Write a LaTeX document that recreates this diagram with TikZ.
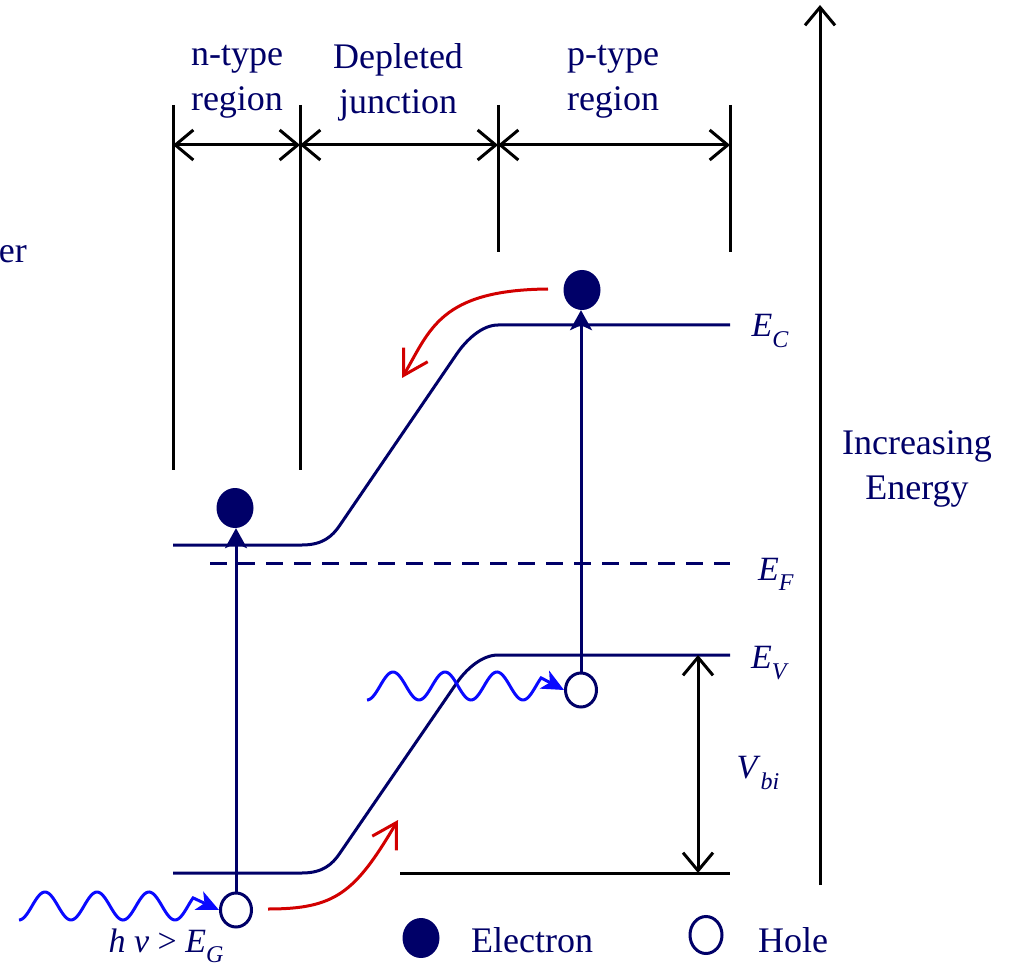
\documentclass[tikz,border=0pt]{standalone}
\usepackage{fontspec}
\setmainfont{Liberation Serif}
\usetikzlibrary{arrows.meta,shapes.geometric}
\definecolor{navy}{RGB}{0,0,104}
\definecolor{wblue}{RGB}{10,10,255}
\definecolor{ared}{RGB}{210,0,0}
\newcommand{\lvl}[2]{\textit{#1}\raisebox{-0.3em}{\fontsize{24}{24}\selectfont\textit{#2}}}
\begin{document}
\begin{tikzpicture}[x=1pt,y=-1pt,
  bar/.style={line width=3pt,black},
  dimarrow/.style={line width=3pt,black,{Straight Barb[length=18pt,width=30pt]}-{Straight Barb[length=18pt,width=30pt]}},
  uparrow/.style={line width=3pt,black,-{Straight Barb[length=18pt,width=30pt]}},
  band/.style={line width=3pt,navy},
  fermi/.style={line width=3pt,navy,dash pattern=on 17pt off 11pt},
  elec/.style={ellipse,fill=navy,inner sep=0pt,minimum width=37pt,minimum height=40pt},
  hole/.style={ellipse,draw=navy,line width=3pt,fill=white,inner sep=0pt,minimum width=31pt,minimum height=34pt},
  lbl/.style={text=navy,font=\fontsize{36}{45}\selectfont,align=center,inner sep=0pt},
  elbl/.style={text=navy,font=\fontsize{34}{40}\selectfont,inner sep=0pt},
  wave/.style={line width=3pt,wblue,-{Stealth[length=22pt,width=20pt,inset=6pt]}},
  rarrow/.style={line width=3pt,ared,-{Straight Barb[length=24pt,width=28pt]}},
  vup/.style={band,-{Stealth[length=20pt,width=22pt,inset=5pt]}},
]
\path[use as bounding box] (0,0) rectangle (1015,973);

% region bars
\coordinate (b1t) at (173,105); \coordinate (b1b) at (173,470);
\coordinate (b2t) at (300,105); \coordinate (b2b) at (300,470);
\coordinate (b3t) at (498,105); \coordinate (b3b) at (498,252);
\coordinate (b4t) at (730,105); \coordinate (b4b) at (730,252);
\draw[bar] (b1t) -- (b1b);
\draw[bar] (b2t) -- (b2b);
\draw[bar] (b3t) -- (b3b);
\draw[bar] (b4t) -- (b4b);
\coordinate (d1) at (173,145); \coordinate (d2) at (300,145);
\coordinate (d3) at (498,145); \coordinate (d4) at (730,145);
\draw[dimarrow] (d1) -- (d2);
\draw[dimarrow] (d2) -- (d3);
\draw[dimarrow] (d3) -- (d4);

\node[lbl] (ntype) at (237,82) {n-type\\region};
\node[lbl] (depl) at (398,82) {Depleted\\junction};
\node[lbl] (ptype) at (613,82) {p-type\\region};
\node[lbl,anchor=east] (er) at (27,254) {er};

% bands
\coordinate (c0) at (173,545); \coordinate (c1) at (302,545);
\coordinate (c2) at (340,525); \coordinate (c3) at (456,355);
\coordinate (c4) at (498,325); \coordinate (c5) at (730,325);
\draw[band] (c0) -- (c1) .. controls (322,545) and (332,537) .. (c2) -- (c3)
  .. controls (466,340) and (482,325) .. (c4) -- (c5);
\coordinate (v0) at (173,873); \coordinate (v1) at (302,873);
\coordinate (v2) at (340,853); \coordinate (v3) at (456,684);
\coordinate (v4) at (498,655); \coordinate (v5) at (730,655);
\draw[band] (v0) -- (v1) .. controls (322,873) and (332,865) .. (v2) -- (v3)
  .. controls (466,669) and (482,655) .. (v4) -- (v5);
\coordinate (f0) at (210,563); \coordinate (f1) at (730,563);
\draw[fermi] (f0) -- (f1);
\coordinate (g0) at (400,873); \coordinate (g1) at (730,873);
\draw[bar] (g0) -- (g1);

% labels of levels
\node[elbl] (EC) at (770,331) {\lvl{E}{C}};
\node[elbl] (EF) at (776,574) {\lvl{E}{F}};
\node[elbl] (EV) at (770,663) {\lvl{E}{V}};
\node[elbl] (Vbi) at (758,773) {\lvl{V}{bi}};

% built-in voltage
\coordinate (vb0) at (698,655); \coordinate (vb1) at (698,873);
\draw[dimarrow] (vb0) -- (vb1);

% energy axis
\coordinate (ax0) at (820,885); \coordinate (ax1) at (820,5);
\draw[uparrow] (ax0) -- (ax1);
\node[lbl] (incr) at (917,469) {Increasing\\Energy};

% carriers
\node[elec] (e1) at (235,508) {};
\node[elec] (e2) at (582,290) {};
\node[hole] (h1) at (236,910) {};
\node[hole] (h2) at (581,690) {};
\draw[vup] (h1.north) -- (h1.north |- e1.south);
\draw[vup] (h2.north) -- (h2.north |- e2.south);

% photons
\draw[wave] plot[domain=0:3.35,samples=120,smooth] ({19+52*\x},{906+14*cos(360*\x)}) -- (h1.west);
\draw[wave] plot[domain=0:3.35,samples=120,smooth] ({367+52*\x},{686+14*cos(360*\x)}) -- (h2.west);
\node[elbl] (hnu) at (166,946) {\textit{h ν} > \lvl{E}{G}};

% drift arrows
\coordinate (r1s) at (548,289); \coordinate (r1e) at (402,378);
\draw[rarrow] (r1s) .. controls (440,290) and (430,330) .. (r1e);
\coordinate (r2s) at (268,909); \coordinate (r2e) at (398,820);
\draw[rarrow] (r2s) .. controls (335,909) and (355,893) .. (r2e);

% legend
\node[elec,minimum width=37pt,minimum height=40pt] (e3) at (421,938) {};
\node[lbl] (elec) at (532,940) {Electron};
\node[hole,minimum width=32pt,minimum height=37pt] (h3) at (706,935) {};
\node[lbl] (holel) at (793,940) {Hole};
\end{tikzpicture}
\end{document}
